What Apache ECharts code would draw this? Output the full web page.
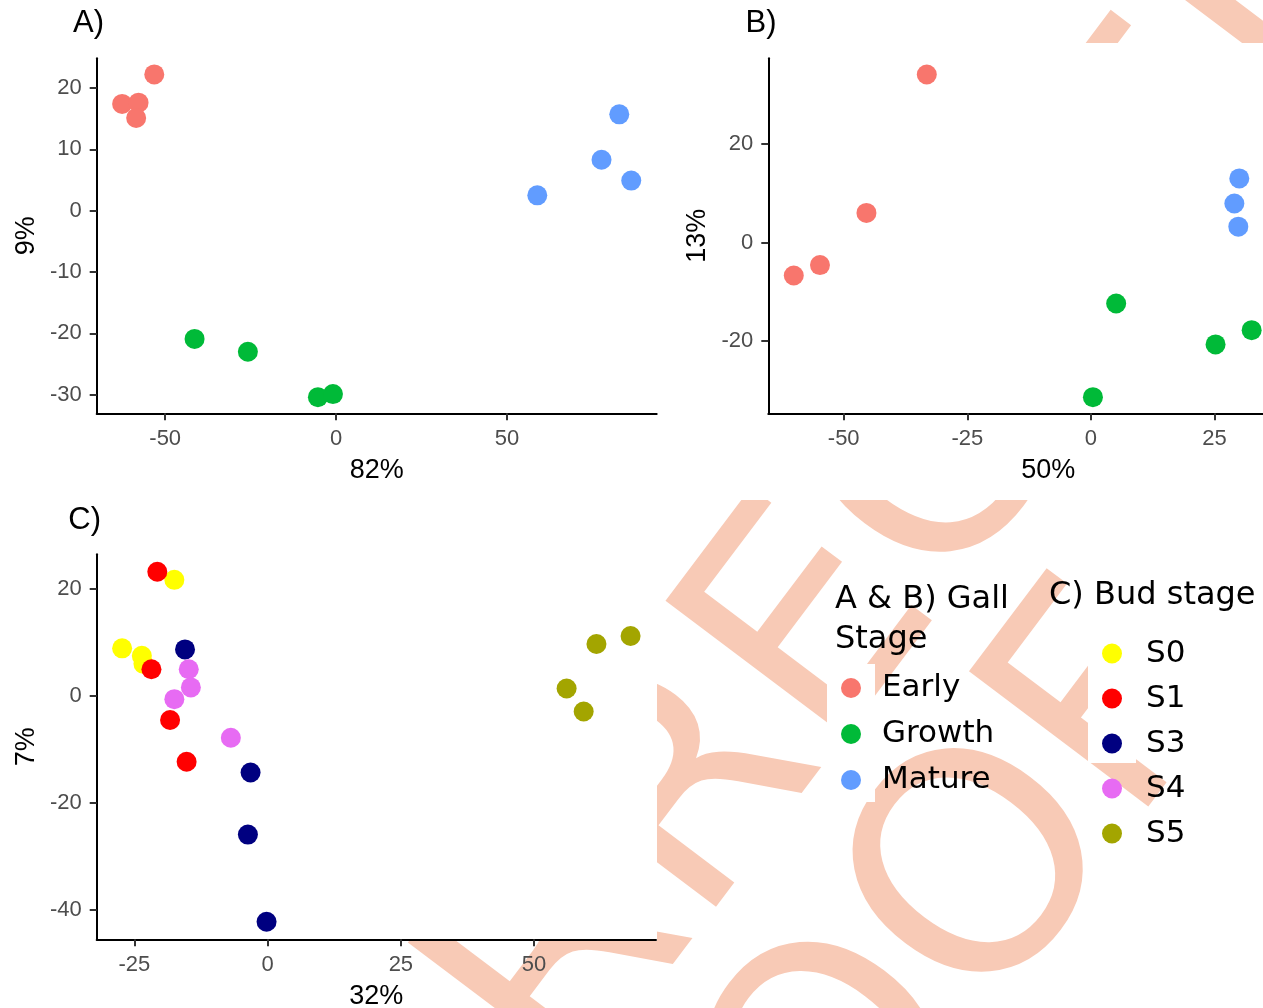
<!DOCTYPE html>
<html><head><meta charset="utf-8">
<script src="https://cdn.jsdelivr.net/npm/echarts@6/dist/echarts.min.js"></script>
<style>html,body{margin:0;padding:0;background:#fff}#c{width:1263px;height:1008px}</style>
</head><body><div id="c"></div>
<script>
// ---------- data ----------
// Panel A : PC1 (82%) vs PC2 (9%), gall stage
const aEarly  = [[-53.2,22.2],[-62.6,17.4],[-57.8,17.6],[-58.5,15.1]];
const aGrowth = [[-41.4,-20.9],[-25.8,-23.0],[-5.3,-30.4],[-0.9,-29.9]];
const aMature = [[82.9,15.7],[77.7,8.3],[86.4,4.9],[58.9,2.5]];
// Panel B : 50% vs 13%, gall stage
const bEarly  = [[-33.2,34.1],[-45.4,6.0],[-60.1,-6.7],[-54.8,-4.6]];
const bGrowth = [[5.1,-12.4],[32.5,-17.8],[25.2,-20.7],[0.4,-31.4]];
const bMature = [[30.0,13.0],[29.0,7.9],[29.8,3.2],[42.9,5.0]];
// Panel C : 32% vs 7%, bud stage
const cS0 = [[-17.5,21.7],[-27.3,8.9],[-23.6,7.5],[-23.3,6.0]];
const cS1 = [[-20.7,23.2],[-21.8,5.0],[-18.3,-4.5],[-15.2,-12.3]];
const cS3 = [[-15.5,8.7],[-3.2,-14.3],[-3.7,-25.9],[-0.2,-42.2]];
const cS4 = [[-14.8,5.0],[-14.4,1.6],[-17.5,-0.6],[-6.9,-7.8]];
const cS5 = [[61.7,9.7],[68.1,11.2],[56.1,1.4],[59.3,-2.9]];

const gallStages = ['Early','Growth','Mature'];
const budStages  = ['S0','S1','S3','S4','S5'];
const gallColors = ['#F8766D','#00BA38','#619CFF'];
const budColors  = ['#FFFF00','#FF0000','#000080','#E76BF3','#A3A500'];

const ticksAx = [-50,0,50],        ticksAy = [-30,-20,-10,0,10,20];
const ticksBx = [-50,-25,0,25],    ticksBy = [-20,0,20];
const ticksCx = [-25,0,25,50],     ticksCy = [-40,-20,0,20];
const axisNames = {ax:'82%', ay:'9%', bx:'50%', by:'13%', cx:'32%', cy:'7%'};

// ---------- helpers ----------
const AXF = 'Liberation Sans, Arial, sans-serif';
const LGF = 'DejaVu Sans, sans-serif';
function xAx(gi, min, max, ticks, name){
  return {type:'value', gridIndex:gi, min:min, max:max, name:name, nameLocation:'middle', nameGap:44,
    nameTextStyle:{fontFamily:AXF, fontSize:27, color:'#000'},
    axisLine:{show:true, onZero:false, lineStyle:{color:'#000', width:2}},
    axisTick:{show:true, length:7, customValues:ticks, lineStyle:{color:'#333', width:2}},
    axisLabel:{show:true, customValues:ticks, margin:15, fontFamily:AXF, fontSize:22, color:'#4D4D4D'},
    splitLine:{show:false}, z:5};
}
function yAx(gi, min, max, ticks, name){
  return {type:'value', gridIndex:gi, min:min, max:max, name:name, nameLocation:'middle', nameGap:57,
    nameTextStyle:{fontFamily:AXF, fontSize:27, color:'#000'},
    axisLine:{show:true, onZero:false, lineStyle:{color:'#000', width:2}},
    axisTick:{show:true, length:7, customValues:ticks, lineStyle:{color:'#333', width:2}},
    axisLabel:{show:true, customValues:ticks, margin:15, fontFamily:AXF, fontSize:22, color:'#4D4D4D'},
    splitLine:{show:false}, z:5};
}
function sc(name, data, color, gi){
  return {type:'scatter', name:name, data:data, xAxisIndex:gi, yAxisIndex:gi, symbol:'circle', symbolSize:20,
    itemStyle:{color:color, opacity:1}, emphasis:{disabled:true}, z:10, clip:true};
}

// ---------- watermark ("UNCORRECTED PROOF", behind the panels) ----------
const WM = {fs:308, deg:53, mid:0.30, color:'#F8CAB6'};
function wmPiece(text, ox, oy, align){
  const t = WM.deg*Math.PI/180, m = WM.mid*WM.fs;
  return {type:'text', x: ox - m*Math.sin(t), y: oy - m*Math.cos(t), rotation:t, silent:true, z:0,
    style:{text:text, font: WM.fs+'px "DejaVu Sans"', fill:WM.color, align:align, textAlign:align,
      verticalAlign:'middle', textVerticalAlign:'middle'}};
}
const wmLines = [
  {left:'UNCORR', right:'ECTED PROOF', x:836.5, y:767.4},
  {left:'UNCORRECTED PROO', right:'F', x:1140, y:838}
];
const graphics = [];
wmLines.forEach(l=>{ graphics.push(wmPiece(l.left,l.x,l.y,'right')); graphics.push(wmPiece(l.right,l.x,l.y,'left')); });
const masks = [[0,0,657,500],[657,43,606,457],[0,500,657,441],[827,664,48,138],[1088,627,48,136]];
masks.forEach(m=>graphics.push({type:'rect', silent:true, z:1, shape:{x:m[0],y:m[1],width:m[2],height:m[3]}, style:{fill:'#fff'}}));

// ---------- option ----------
const tStyle = {fontFamily:AXF, fontSize:31, fontWeight:'normal', color:'#000'};
const lTitle = {fontFamily:LGF, fontSize:32, lineHeight:40, fontWeight:'normal', color:'#000'};
const option = {
  animation:false,
  backgroundColor:'#fff',
  title:[
    {text:'A)', left:73, top:8, padding:0, textStyle:tStyle},
    {text:'B)', left:745.6, top:8, padding:0, textStyle:tStyle},
    {text:'C)', left:68.3, top:504.5, padding:0, textStyle:tStyle},
    {text:'A & B) Gall\nStage', left:835, top:579.5, padding:0, textStyle:lTitle},
    {text:'C) Bud stage', left:1049, top:576, padding:0, textStyle:lTitle}
  ],
  legend:[
    {data:gallStages, orient:'vertical', left:841, top:672.5, padding:0, itemWidth:20, itemHeight:20, itemGap:15,
      icon:'circle', selectedMode:false, textStyle:{fontFamily:LGF, fontSize:31, color:'#000', padding:[0,0,0,16]}},
    {data:budStages, orient:'vertical', left:1102, top:638, padding:0, itemWidth:20, itemHeight:20, itemGap:14,
      icon:'circle', selectedMode:false, textStyle:{fontFamily:LGF, fontSize:31, color:'#000', padding:[0,0,0,19]}}
  ],
  grid:[
    {left:96.7, top:58.3, width:560, height:355, outerBoundsMode:'none', containLabel:false},
    {left:768.3, top:58.3, width:560, height:355, outerBoundsMode:'none', containLabel:false},
    {left:96.7, top:554.3, width:559.3, height:385, outerBoundsMode:'none', containLabel:false}
  ],
  xAxis:[
    xAx(0,-70.05,93.85,ticksAx,axisNames.ax),
    xAx(1,-65.25,48.0,ticksBx,axisNames.bx),
    xAx(2,-32.07,72.87,ticksCx,axisNames.cx)
  ],
  yAxis:[
    yAx(0,-33.03,24.83,ticksAy,axisNames.ay),
    yAx(1,-34.68,37.38,ticksBy,axisNames.by),
    yAx(2,-45.47,26.47,ticksCy,axisNames.cy)
  ],
  graphic:{elements:graphics},
  series:[
    sc('Early',aEarly,gallColors[0],0), sc('Growth',aGrowth,gallColors[1],0), sc('Mature',aMature,gallColors[2],0),
    sc('Early',bEarly,gallColors[0],1), sc('Growth',bGrowth,gallColors[1],1), sc('Mature',bMature,gallColors[2],1),
    sc('S0',cS0,budColors[0],2), sc('S1',cS1,budColors[1],2), sc('S3',cS3,budColors[2],2),
    sc('S4',cS4,budColors[3],2), sc('S5',cS5,budColors[4],2)
  ]
};
const chart = echarts.init(document.getElementById('c'), null, {renderer:'canvas'});
chart.setOption(option);
</script></body></html>
